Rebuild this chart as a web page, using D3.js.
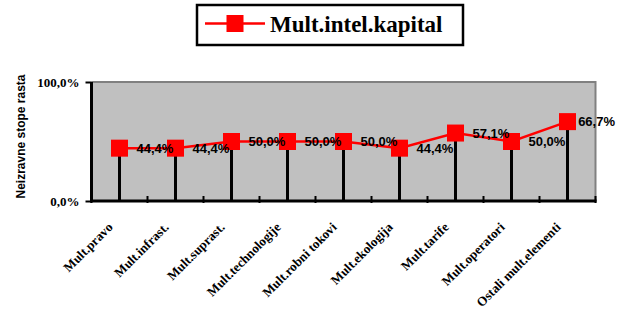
<!DOCTYPE html>
<meta charset="utf-8">
<style>
body { margin: 0; background: #fff; }
</style>
<body>
<script src="https://cdn.jsdelivr.net/npm/d3@7"></script>
<script>

// data
var categories = ["Mult.pravo", "Mult.infrast.", "Mult.suprast.", "Mult.technologije",
                  "Mult.robni tokovi", "Mult.ekologija", "Mult.tarife", "Mult.operatori",
                  "Ostali mult.elementi"];
var values = [0.444, 0.444, 0.500, 0.500, 0.500, 0.444, 0.571, 0.500, 0.667];
var valueLabels = ["44,4%", "44,4%", "50,0%", "50,0%", "50,0%", "44,4%", "57,1%", "50,0%", "66,7%"];
var yTicks = [0, 1];
var yTickLabels = ["0,0%", "100,0%"];
var seriesName = "Mult.intel.kapital";

var W = 622, H = 309;
var margin = {top: 82, right: 26.5, bottom: 108, left: 91.5},
    width = W - margin.left - margin.right,
    height = H - margin.top - margin.bottom;

var x = d3.scaleBand().domain(categories).range([0, width]);
var y = d3.scaleLinear().domain([0, 1]).range([height, 0]);

var svg = d3.select("body").append("svg")
    .attr("width", W)
    .attr("height", H);

var g = svg.append("g")
    .attr("transform", "translate(" + margin.left + "," + margin.top + ")");

// plot background
g.append("rect")
    .attr("width", width)
    .attr("height", height)
    .attr("fill", "#c0c0c0");

// top and right border
g.append("path")
    .attr("d", "M0,0H" + width + "V" + height)
    .attr("fill", "none")
    .attr("stroke", "#808080")
    .attr("stroke-width", 2);

// drop lines
g.selectAll(".drop")
    .data(values)
  .enter().append("line")
    .attr("class", "drop")
    .attr("x1", function(d, i) { return x(categories[i]) + x.bandwidth() / 2; })
    .attr("x2", function(d, i) { return x(categories[i]) + x.bandwidth() / 2; })
    .attr("y1", function(d) { return y(d); })
    .attr("y2", y(0))
    .attr("stroke", "#000")
    .attr("stroke-width", 3);

// x axis
var xAxis = g.append("g")
    .attr("transform", "translate(0," + height + ")");
xAxis.append("line")
    .attr("x1", -1.5).attr("x2", width + 1)
    .attr("stroke", "#000").attr("stroke-width", 3);
xAxis.selectAll(".xtick")
    .data(d3.range(categories.length + 1))
  .enter().append("line")
    .attr("x1", function(i) { return i * x.step(); })
    .attr("x2", function(i) { return i * x.step(); })
    .attr("y1", -5).attr("y2", 2)
    .attr("stroke", "#000").attr("stroke-width", 2);
xAxis.selectAll(".xlab")
    .data(categories)
  .enter().append("text")
    .attr("transform", function(d) {
      return "translate(" + (x(d) + x.bandwidth() / 2 - 6) + "," + 27 + ")rotate(-45)";
    })
    .attr("text-anchor", "end")
    .style("font-family", "'Liberation Serif', 'Times New Roman', serif")
    .style("font-weight", "bold")
    .style("font-size", "13px")
    .text(function(d) { return d; });

// y axis
var yAxis = g.append("g")
    .call(d3.axisLeft(y).tickValues(yTicks).tickSize(6)
      .tickFormat(function(d, i) { return yTickLabels[i]; }));
yAxis.select(".domain").remove();
yAxis.selectAll(".tick line").attr("stroke-width", 2);
yAxis.append("line")
    .attr("x1", 0).attr("x2", 0)
    .attr("y1", 0).attr("y2", height)
    .attr("stroke", "#000").attr("stroke-width", 3);
yAxis.selectAll(".tick text")
    .attr("x", -12)
    .style("font-family", "'Liberation Serif', 'Times New Roman', serif")
    .style("font-weight", "bold")
    .style("font-size", "13px")
    .attr("fill", "#000");

// y axis title
g.append("text")
    .attr("text-anchor", "middle")
    .attr("transform", "translate(" + (-67) + "," + (height / 2 - 5) + ")rotate(-90)")
    .style("font-family", "'Liberation Sans', Arial, sans-serif")
    .style("font-weight", "bold")
    .style("font-size", "12px")
    .text("Neizravne stope rasta");

// series line
var line = d3.line()
    .x(function(d, i) { return x(categories[i]) + x.bandwidth() / 2; })
    .y(function(d) { return y(d); });

g.append("path")
    .datum(values)
    .attr("d", line)
    .attr("fill", "none")
    .attr("stroke", "#ff0000")
    .attr("stroke-width", 2.5);

// markers
g.selectAll(".dot")
    .data(values)
  .enter().append("rect")
    .attr("class", "dot")
    .attr("x", function(d, i) { return x(categories[i]) + x.bandwidth() / 2 - 8.5; })
    .attr("y", function(d) { return y(d) - 8.5; })
    .attr("width", 17)
    .attr("height", 17)
    .attr("fill", "#ff0000");

// value labels (kept inside the chart on the right, like Excel does)
g.selectAll(".vlab")
    .data(values)
  .enter().append("text")
    .attr("y", function(d) { return y(d); })
    .attr("dy", "0.36em")
    .style("font-family", "'Liberation Sans', Arial, sans-serif")
    .style("font-weight", "bold")
    .style("font-size", "13px")
    .text(function(d, i) { return valueLabels[i]; })
    .attr("x", function(d, i) {
      var px = x(categories[i]) + x.bandwidth() / 2 + 17;
      var maxX = W - margin.left - 7 - this.getComputedTextLength();
      return Math.min(px, maxX);
    });

// legend
var legend = svg.append("g");
legend.append("rect")
    .attr("x", 197).attr("y", 5)
    .attr("width", 266).attr("height", 40)
    .attr("fill", "#fff")
    .attr("stroke", "#000")
    .attr("stroke-width", 2.5);
legend.append("line")
    .attr("x1", 205).attr("x2", 265)
    .attr("y1", 23.5).attr("y2", 23.5)
    .attr("stroke", "#ff0000").attr("stroke-width", 2.5);
legend.append("rect")
    .attr("x", 226.5).attr("y", 15)
    .attr("width", 17).attr("height", 17)
    .attr("fill", "#ff0000");
legend.append("text")
    .attr("x", 270).attr("y", 32)
    .style("font-family", "'Liberation Serif', 'Times New Roman', serif")
    .style("font-weight", "bold")
    .style("font-size", "23px")
    .text(seriesName);

</script>
</body>
